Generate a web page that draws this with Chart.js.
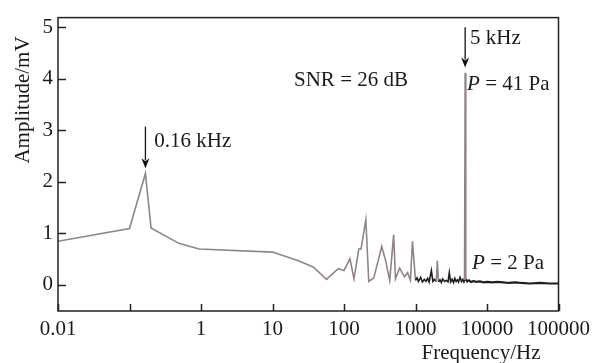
<!DOCTYPE html>
<html>
<head>
<meta charset="utf-8">
<script src="https://cdn.jsdelivr.net/npm/chart.js@4/dist/chart.umd.min.js"></script>
<style>
  html, body { margin: 0; padding: 0; background: #fff; }
  #wrap { width: 596px; height: 363px; position: relative; }
</style>
</head>
<body>
<div id="wrap"><canvas id="c"></canvas></div>
<script>
// spectrum (frequency in Hz, amplitude in mV)
const freqHz = [0.01, 0.1, 0.167, 0.2, 0.49, 0.94, 10, 23, 37, 57, 83, 100, 121, 138, 161, 173, 202, 222, 261, 300,
  337, 383, 436, 495, 525, 600, 700, 775, 850, 907, 1000, 1050, 1100, 1180, 1250, 1330, 1400, 1480, 1550, 1668,
  1750, 1850, 1950, 2020, 2100, 2200, 2300, 2400, 2550, 2700, 2850, 2970, 3100, 3250, 3400, 3550, 3700, 3850,
  4000, 4200, 4400, 4600, 4750, 4850, 4950, 5050, 5300, 5600, 6000, 6500, 7000, 8000, 9000, 10000, 12000, 14000,
  17000, 20000, 25000, 30000, 40000, 55000, 75000, 100000]
const amplitude = [0.84, 1.09, 2.16, 1.1, 0.8, 0.69, 0.63, 0.46, 0.34, 0.1, 0.31, 0.27, 0.5, 0.11, 0.69, 0.69, 1.26, 0.06, 0.13, 0.46,
  0.74, 0.46, 0.08, 0.97, 0.11, 0.32, 0.15, 0.23, 0.08, 0.84, 0.08, 0.13, 0.06, 0.14, 0.05, 0.1, 0.06, 0.12, 0.05, 0.27,
  0.06, 0.1, 0.05, 0.46, 0.05, 0.09, 0.04, 0.11, 0.06, 0.08, 0.05, 0.23, 0.05, 0.1, 0.04, 0.12, 0.06, 0.09,
  0.05, 0.14, 0.06, 0.1, 0.05, 0.09, 4.12, 0.1, 0.06, 0.08, 0.05, 0.07, 0.05, 0.06, 0.04, 0.05, 0.04, 0.05,
  0.04, 0.03, 0.04, 0.03, 0.02, 0.03, 0.02, 0.02]

const xTickValues = [0.01, 0.1, 1, 10, 100, 1000, 10000, 100000]
const xTickLabels = ['0.01', '', '1', '10', '100', '1000', '10000', '100000']
const yTickValues = [0, 1, 2, 3, 4, 5]

// annotation texts, anchored in data units
const arrows = [
  { x: 0.167, from: 3.07, to: 2.26 },
  { x: 4950, from: 5.0, to: 4.22 }
]
const notes = [
  { x: 0.222, y: 2.79, parts: [['0.16 kHz', false]] },
  { x: 5800, y: 4.79, parts: [['5 kHz', false]] },
  { x: 20, y: 3.97, parts: [['SNR = 26 dB', false]] },
  { x: 5270, y: 3.89, parts: [['P', true], [' = 41 Pa', false]] },
  { x: 6190, y: 0.4, parts: [['P', true], [' = 2 Pa', false]] }
]

const FONT = '"Liberation Serif", "Times New Roman", serif'
const GRAY = '#8e8686'
const DARK = '#1e1e1e'

const decor = {
  id: 'decor',
  afterDraw(chart) {
    const { ctx, chartArea: a, scales: { x, y } } = chart
    ctx.save()
    // frame + inward ticks
    ctx.strokeStyle = '#222'
    ctx.lineWidth = 1.5
    ctx.strokeRect(a.left, a.top, a.right - a.left, a.bottom - a.top)
    ctx.beginPath()
    xTickValues.forEach(v => {
      const px = Math.round(x.getPixelForValue(v)) + 0.5
      ctx.moveTo(px, a.bottom); ctx.lineTo(px, a.bottom - 7)
    })
    yTickValues.forEach(v => {
      const py = Math.round(y.getPixelForValue(v)) + 0.5
      ctx.moveTo(a.left, py); ctx.lineTo(a.left + 8, py)
    })
    ctx.stroke()

    // arrows
    ctx.strokeStyle = '#111'
    ctx.fillStyle = '#111'
    ctx.lineWidth = 1.3
    arrows.forEach(ar => {
      const px = x.getPixelForValue(ar.x)
      const p0 = y.getPixelForValue(ar.from)
      const p1 = y.getPixelForValue(ar.to)
      ctx.beginPath(); ctx.moveTo(px, p0); ctx.lineTo(px, p1 - 8); ctx.stroke()
      ctx.beginPath(); ctx.moveTo(px - 4, p1 - 10); ctx.lineTo(px, p1); ctx.lineTo(px + 4, p1 - 10)
      ctx.lineTo(px, p1 - 7); ctx.closePath(); ctx.fill()
    })

    // notes
    ctx.fillStyle = '#1a1a1a'
    ctx.textBaseline = 'middle'
    ctx.textAlign = 'left'
    notes.forEach(n => {
      let px = x.getPixelForValue(n.x)
      const py = y.getPixelForValue(n.y)
      n.parts.forEach(([t, it]) => {
        ctx.font = (it ? 'italic ' : '') + '21px ' + FONT
        ctx.fillText(t, px, py)
        px += ctx.measureText(t).width
      })
    })

    // axis titles
    ctx.font = '21px ' + FONT
    ctx.textAlign = 'center'
    ctx.fillText('Frequency/Hz', 481, 353)
    ctx.translate(23, 100)
    ctx.rotate(-Math.PI / 2)
    ctx.fillText('Amplitude/mV', 0, 0)
    ctx.restore()
  }
}

new Chart(document.getElementById('c'), {
  type: 'line',
  data: {
    datasets: [{
      data: freqHz.map((f, i) => ({ x: f, y: amplitude[i] })),
      borderColor: GRAY,
      borderWidth: 1.6,
      pointRadius: 0,
      tension: 0,
      segment: {
        borderColor: c => (c.p0.parsed.x >= 900 && c.p0.parsed.y < 0.35 && c.p1.parsed.y < 0.35) ? DARK : GRAY,
        borderWidth: c => c.p0.parsed.x >= 5000 ? 2.2 : 1.6
      }
    }]
  },
  options: {
    responsive: true,
    maintainAspectRatio: false,
    animation: false,
    layout: { padding: { top: 12, right: 34, left: 0, bottom: 0 } },
    plugins: { legend: { display: false }, tooltip: { enabled: false } },
    scales: {
      x: {
        type: 'logarithmic',
        min: 0.01,
        max: 100000,
        afterBuildTicks: s => { s.ticks = xTickValues.map(v => ({ value: v })) },
        afterFit: s => { s.height = 52 },
        grid: { display: false, drawTicks: false },
        border: { display: false },
        ticks: {
          autoSkip: false,
          maxRotation: 0,
          padding: 6,
          color: '#1a1a1a',
          font: { family: FONT, size: 21 },
          callback: (v, i) => xTickLabels[i]
        }
      },
      y: {
        min: -0.515,
        max: 5.19,
        afterBuildTicks: s => { s.ticks = yTickValues.map(v => ({ value: v })) },
        afterFit: s => { s.width = 58 },
        grid: { display: false, drawTicks: false },
        border: { display: false },
        ticks: {
          padding: 5,
          color: '#1a1a1a',
          font: { family: FONT, size: 21 },
          callback: v => String(v)
        }
      }
    }
  },
  plugins: [decor]
})
</script>
</body>
</html>
